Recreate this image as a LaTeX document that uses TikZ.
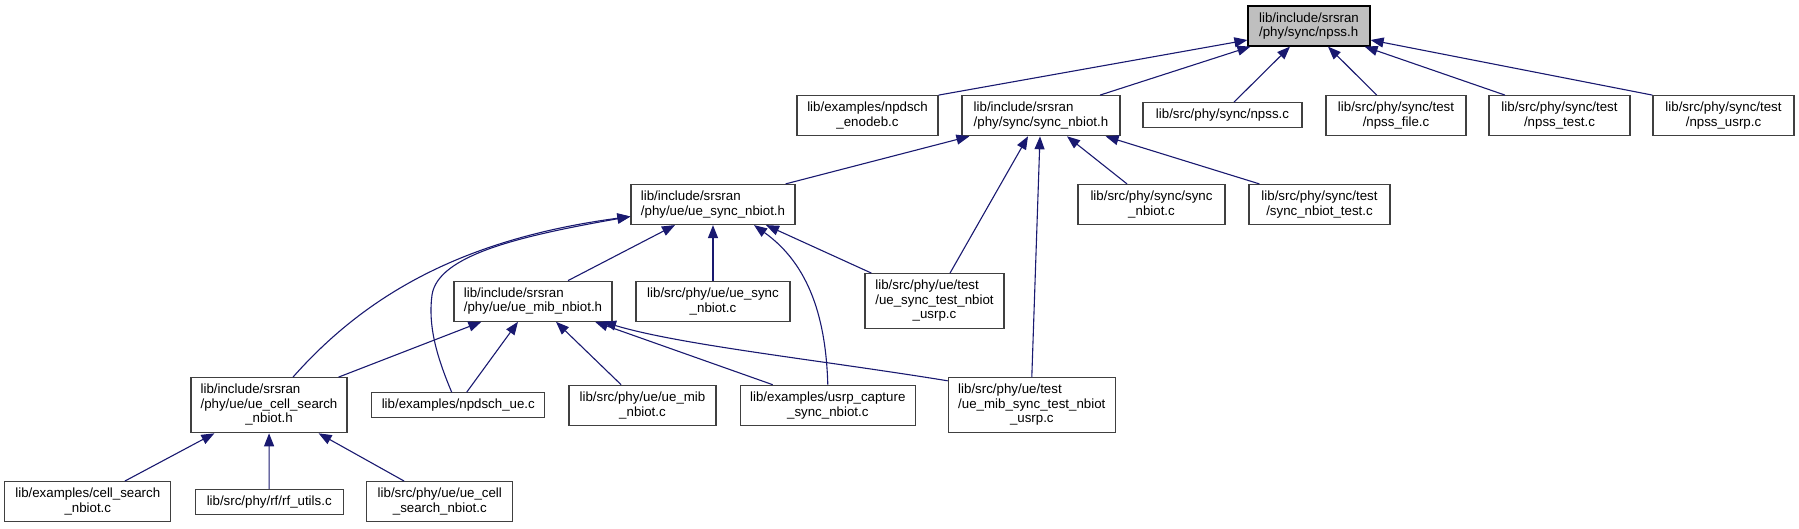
\documentclass[tikz,border=0pt]{standalone}
\usepackage{fontspec}
\setmainfont{Liberation Sans}
\usetikzlibrary{arrows.meta}
\definecolor{edgeblue}{HTML}{191970}
\definecolor{boxgrey}{HTML}{404040}
\definecolor{rootfill}{HTML}{BFBFBF}
% two left lines, last line centred
\newcommand{\leftlines}[3]{\begin{tabular}{@{}l@{}}#1\\#2\\\multicolumn{1}{@{}c@{}}{#3}\end{tabular}}
\tikzset{
  file/.style={draw=boxgrey, fill=white, line width=1.2pt, inner sep=0pt, align=center,
    minimum height=40pt, font=\fontsize{13.3}{14.7}\selectfont},
  root/.style={file, draw=black, fill=rootfill},
  dep/.style={draw=edgeblue, line width=1.1pt, -{Triangle[length=13pt,width=10pt]}}
}
\begin{document}
\begin{tikzpicture}[x=1pt,y=-1pt]
  \useasboundingbox (0,0) rectangle (1799,528);
  % top rows
  \node[root, minimum width=122pt, align=left] (npssh) at (1309,26) {lib/include/srsran\\/phy/sync/npss.h};
  \node[file, minimum width=141pt] (enodeb) at (867.5,115.7) {lib/examples/npdsch\\\_enodeb.c};
  \node[file, minimum width=158pt, align=left] (syncnbioth) at (1041,115.7) {lib/include/srsran\\/phy/sync/sync\_nbiot.h};
  \node[file, minimum width=159pt, minimum height=25pt] (npssc) at (1222.5,115.2) {lib/src/phy/sync/npss.c};
  \node[file, minimum width=140pt] (npssfile) at (1396,115.7) {lib/src/phy/sync/test\\/npss\_file.c};
  \node[file, minimum width=141pt] (npsstest) at (1559.5,115.7) {lib/src/phy/sync/test\\/npss\_test.c};
  \node[file, minimum width=141pt] (npssusrp) at (1723.5,115.7) {lib/src/phy/sync/test\\/npss\_usrp.c};
  \node[file, minimum width=164pt, align=left] (uesynch) at (713,204.5) {lib/include/srsran\\/phy/ue/ue\_sync\_nbiot.h};
  \node[file, minimum width=147pt] (syncnbiotc) at (1151.5,204.5) {lib/src/phy/sync/sync\\\_nbiot.c};
  \node[file, minimum width=141pt] (syncnbiottest) at (1319.5,204.5) {lib/src/phy/sync/test\\/sync\_nbiot\_test.c};
  \node[file, minimum width=158pt, align=left] (uemibh) at (533,301.2) {lib/include/srsran\\/phy/ue/ue\_mib\_nbiot.h};
  \node[file, minimum width=154pt] (uesyncc) at (713,301.2) {lib/src/phy/ue/ue\_sync\\\_nbiot.c};
  \node[file, minimum width=139pt, minimum height=55pt] (uesynctest) at (934.5,301.2) {\leftlines{lib/src/phy/ue/test}{/ue\_sync\_test\_nbiot}{\_usrp.c}};
  % bottom rows
  \node[file, minimum width=156pt, minimum height=55pt] (uecellsearchh) at (269,405.2) {\leftlines{lib/include/srsran}{/phy/ue/ue\_cell\_search}{\_nbiot.h}};
  \node[file, minimum width=173pt, minimum height=25pt] (npdschue) at (458.3,405.3) {lib/examples/npdsch\_ue.c};
  \node[file, minimum width=147pt] (uemibc) at (642.5,405.3) {lib/src/phy/ue/ue\_mib\\\_nbiot.c};
  \node[file, minimum width=175pt] (usrpcapture) at (827.8,405.3) {lib/examples/usrp\_capture\\\_sync\_nbiot.c};
  \node[file, minimum width=167pt, minimum height=55pt] (uemibsynctest) at (1031.8,405.2) {\leftlines{lib/src/phy/ue/test}{/ue\_mib\_sync\_test\_nbiot}{\_usrp.c}};
  \node[file, minimum width=166pt] (cellsearchc) at (87.8,501.7) {lib/examples/cell\_search\\\_nbiot.c};
  \node[file, minimum width=148pt, minimum height=25pt] (rfutils) at (269.2,502) {lib/src/phy/rf/rf\_utils.c};
  \node[file, minimum width=146pt] (uecellsearchc) at (439.8,501.7) {lib/src/phy/ue/ue\_cell\\\_search\_nbiot.c};
  % into npss.h
  \draw[dep] (enodeb.north east) -- ([yshift=-14pt]npssh.west);
  \draw[dep] ([xshift=59pt]syncnbioth.north) -- ([xshift=3pt]npssh.south west);
  \draw[dep] ([xshift=11.5pt]npssc.north) -- ([xshift=-19pt]npssh.south);
  \draw[dep] ([xshift=-19.3pt]npssfile.north) -- ([xshift=19pt]npssh.south);
  \draw[dep] ([xshift=-54.5pt]npsstest.north) -- ([xshift=-6pt]npssh.south east);
  \draw[dep] (npssusrp.north west) -- ([yshift=-14pt]npssh.east);
  % into sync_nbiot.h
  \draw[dep] ([xshift=-10pt]uesynch.north east) -- ([xshift=8pt]syncnbioth.south west);
  \draw[dep] ([xshift=15.5pt]uesynctest.north) -- ([xshift=-13pt]syncnbioth.south);
  \draw[dep] (uemibsynctest.north) -- ([xshift=-1pt]syncnbioth.south);
  \draw[dep] ([xshift=-24.5pt]syncnbiotc.north) -- ([xshift=26pt]syncnbioth.south);
  \draw[dep] ([xshift=11pt]syncnbiottest.north west) -- ([xshift=-15pt]syncnbioth.south east);
  % into ue_sync_nbiot.h
  \draw[dep] ([xshift=24pt]uecellsearchh.north) .. controls (370,290) and (470,238) .. ([yshift=-12pt]uesynch.west);
  \draw[dep] ([xshift=-6.6pt]npdschue.north) .. controls (436,355) and (428,325) .. (432,295)
    .. controls (438,255) and (520,236) .. ([yshift=-12pt]uesynch.west);
  \draw[dep] ([xshift=35pt]uemibh.north) -- ([xshift=-38pt]uesynch.south);
  \draw[dep] (uesyncc) -- (uesynch);
  \draw[dep] (usrpcapture.north) .. controls (826,320) and (810,265) .. ([xshift=41pt]uesynch.south);
  \draw[dep] ([xshift=7pt]uesynctest.north west) -- ([xshift=53pt]uesynch.south);
  % into ue_mib_nbiot.h
  \draw[dep] ([xshift=-9pt]uecellsearchh.north east) -- ([xshift=28pt]uemibh.south west);
  \draw[dep] ([xshift=8.4pt]npdschue.north) -- ([xshift=-15pt]uemibh.south);
  \draw[dep] ([xshift=52.7pt]uemibc.north west) -- ([xshift=23pt]uemibh.south);
  \draw[dep] ([xshift=33pt]usrpcapture.north west) -- ([xshift=62pt]uemibh.south);
  \draw[dep] ([yshift=-3.7pt]uemibsynctest.north west) .. controls (820,360) and (680,345) .. ([xshift=70pt]uemibh.south);
  % into ue_cell_search_nbiot.h
  \draw[dep] ([xshift=37pt]cellsearchc.north) -- ([xshift=24pt]uecellsearchh.south west);
  \draw[dep] (rfutils) -- (uecellsearchh);
  \draw[dep] ([xshift=38pt]uecellsearchc.north west) -- ([xshift=-29pt]uecellsearchh.south east);
\end{tikzpicture}
\end{document}
